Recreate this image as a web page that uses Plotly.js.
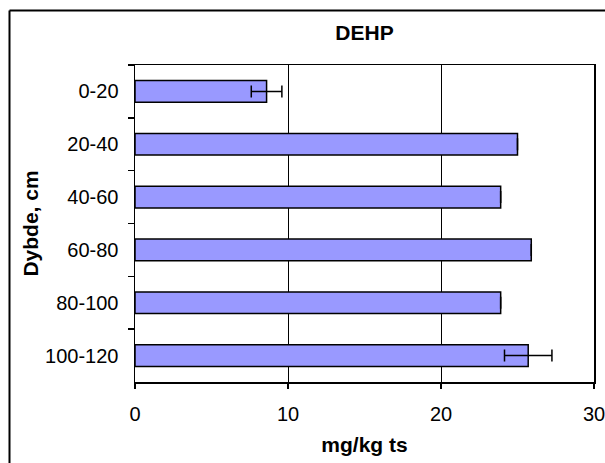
<!DOCTYPE html>
<html>
<head>
<meta charset="utf-8">
<script src="https://cdn.plot.ly/plotly-3.0.1.min.js"></script>
<style>
html,body{margin:0;padding:0;background:#fff;overflow:hidden;width:605px;height:463px;}
#chart{width:605px;height:463px;position:relative;}
</style>
</head>
<body>
<div id="chart"></div>
<script>
const depths = ["0-20", "20-40", "40-60", "60-80", "80-100", "100-120"];
const dehp = [8.6, 25.0, 23.9, 25.9, 23.9, 25.7];
const dehpErr = [1.0, 0, 0, 0, 0, 1.55];
const errVisible = [true, false, false, false, false, true];

const trace = {
  type: "bar",
  orientation: "h",
  y: depths,
  x: dehp,
  marker: {color: "#9999FF", line: {color: "#000000", width: 1.5}},
  error_x: {
    type: "data",
    array: dehpErr.map((e, i) => errVisible[i] ? e : null),
    visible: true,
    color: "#000000",
    thickness: 1.5,
    width: 6
  },
  hoverinfo: "none"
};

const font = "Liberation Sans, Arial, sans-serif";
const L = 135, T = 65, W = 459, H = 317;
const layout = {
  width: 605,
  height: 463,
  margin: {l: L, r: 605 - L - W, t: T, b: 463 - T - H},
  paper_bgcolor: "#ffffff",
  plot_bgcolor: "#ffffff",
  showlegend: false,
  bargap: 0.59,
  font: {family: font, color: "#000000", size: 20},
  title: {
    text: "<b>DEHP</b>",
    font: {family: font, size: 21, color: "#000000"},
    x: 0.5, xref: "paper", xanchor: "center",
    y: 463 - 34, yref: "container", yanchor: "middle"
  },
  xaxis: {
    range: [0, 30],
    dtick: 10,
    tick0: 0,
    ticks: "outside",
    ticklen: 5,
    tickwidth: 1.5,
    tickcolor: "#000000",
    ticklabeloverflow: "allow",
    ticklabelstandoff: 8,
    showline: true,
    mirror: true,
    linecolor: "#000000",
    linewidth: 1.5,
    showgrid: true,
    gridcolor: "#000000",
    gridwidth: 1,
    zeroline: false,
    tickfont: {family: font, size: 20},
    title: {text: "<b>mg/kg ts</b>", font: {family: font, size: 21}, standoff: 14},
    fixedrange: true
  },
  yaxis: {
    type: "category",
    autorange: "reversed",
    ticks: "outside",
    tickson: "boundaries",
    ticklen: 6,
    tickwidth: 1.5,
    tickcolor: "#000000",
    ticklabelstandoff: 11,
    showline: true,
    mirror: true,
    linecolor: "#000000",
    linewidth: 1.5,
    showgrid: false,
    zeroline: false,
    tickfont: {family: font, size: 20},
    title: {text: "<b>Dybde, cm</b>", font: {family: font, size: 21}, standoff: 0},
    fixedrange: true
  },
  shapes: [
    {
      type: "line", xref: "paper", yref: "paper",
      x0: (9.5 - L) / W, x1: (9.5 - L) / W,
      y0: (T + H - 470) / H, y1: (T + H - 10.5) / H,
      line: {color: "#000000", width: 2}, layer: "below"
    },
    {
      type: "line", xref: "paper", yref: "paper",
      x0: (9.5 - L) / W, x1: (605 - L) / W,
      y0: (T + H - 10.5) / H, y1: (T + H - 10.5) / H,
      line: {color: "#000000", width: 2}, layer: "below"
    }
  ]
};

Plotly.newPlot("chart", [trace], layout, {staticPlot: true, displayModeBar: false});
</script>
</body>
</html>
